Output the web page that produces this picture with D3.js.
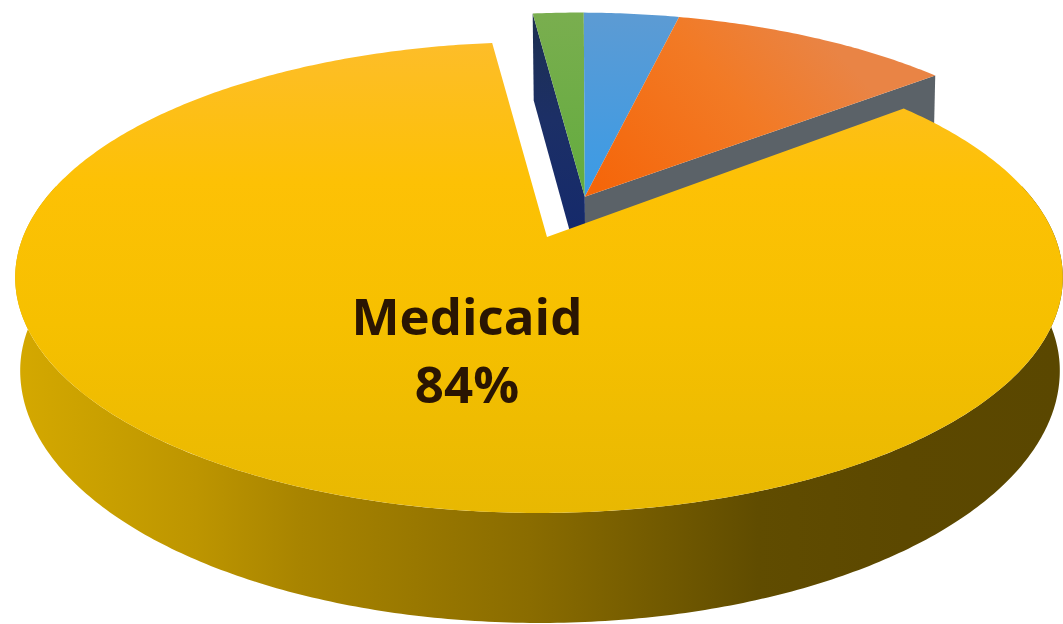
<!DOCTYPE html>
<html>
<head>
<meta charset="utf-8">
<script src="https://cdn.jsdelivr.net/npm/d3@7/dist/d3.min.js"></script>
<style>
  html, body { margin: 0; padding: 0; background: #fff; overflow: hidden; }
  svg { display: block; }
</style>
</head>
<body>
<svg id="chart" width="1063" height="624"></svg>
<script>
// Shares of the pie, largest slice first, then clockwise round the wedge
const categories = ["Medicaid", "Other A", "Other B", "Other C"];
const shares = [84, 1.9, 3.55, 10.55];
const labelLines = ["Medicaid", "84%"];

const W = 1063, H = 624;
const svg = d3.select("#chart").attr("viewBox", [0, 0, W, H]);
const defs = svg.append("defs");

// The disc lies in a tilted plane; a projective map turns its circle into the visible ellipse.
const originX = 539, originY = 237, radiusX = 516, radiusY = 228.5, tilt = 0.172;
function project(u, v) {
  const w = 1 - tilt * v;
  return [originX + radiusX * u / w, originY + radiusY * v / w];
}

// Depth of the disc grows towards the viewer, and the lower face is slightly narrower
const depth = d3.scaleLinear().domain([10, 277, 513]).range([87, 93, 110]);
const lowerX = d3.scaleLinear().domain([15, 1063]).range([20, 1060]);
const lower = ([x, y]) => [lowerX(x), y + depth(y)];

const startDeg = 51.5;
const pie = d3.pie().sort(null).value(d => d)
  .startAngle(startDeg * Math.PI / 180)
  .endAngle(startDeg * Math.PI / 180 + 2 * Math.PI);
const arcs = pie(shares);

// The slice tips sit slightly right of the disc centre
const tipShift = 0.0155;

// The small slices are pulled out along the bisector of the group they form
const smallFrom = arcs[1].startAngle, smallTo = arcs[3].endAngle;
const bisector = (smallFrom + smallTo) / 2;
const pull = 0.197;
const offsetU = tipShift + pull * Math.sin(bisector), offsetV = -pull * Math.cos(bisector);

function rimPoint(a, du, dv) { return project(Math.sin(a) + du, -Math.cos(a) + dv); }
function rim(a0, a1, du, dv) {
  const n = Math.max(2, Math.ceil((a1 - a0) * 90));
  return d3.range(n + 1).map(i => rimPoint(a0 + (a1 - a0) * i / n, du, dv));
}
const outline = d3.line();

function gradient(id, x1, y1, x2, y2, stops) {
  const g = defs.append("linearGradient").attr("id", id)
    .attr("gradientUnits", "userSpaceOnUse")
    .attr("x1", x1).attr("y1", y1).attr("x2", x2).attr("y2", y2);
  stops.forEach(([o, c]) => g.append("stop").attr("offset", o).attr("stop-color", c));
}
gradient("top0", 0, 40, 0, 513, [[0, "#fdbd2a"], [0.3, "#fdc105"], [0.6, "#f6c000"], [1, "#e8b802"]]);
gradient("top1", 0, 10, 0, 195, [[0, "#7aae4f"], [1, "#63ac3e"]]);
gradient("top2", 0, 10, 0, 195, [[0, "#5d9bd3"], [1, "#3a9be6"]]);
gradient("top3", 600, 190, 800, 10, [[0, "#f5660a"], [0.6, "#f27a25"], [1, "#e98445"]]);
gradient("side0", 20, 0, 1060, 0, [
  [0, "#d4a800"], [0.08, "#c9a000"], [0.17, "#bd9500"], [0.27, "#a88400"],
  [0.49, "#8a6c00"], [0.71, "#604c00"], [0.85, "#5c4800"], [1, "#5a4700"]
]);
gradient("wallBlue", 0, 10, 0, 230, [[0, "#1d3050"], [0.5, "#1c2f66"], [1, "#152a6b"]]);

const walls = svg.append("g");
const tops = svg.append("g");

// Cut faces of the pulled-out group: dark blue on its left edge, grey on its right
const apexSmall = project(offsetU, offsetV);
[[smallFrom, "url(#wallBlue)"], [smallTo, "#5b6268"]].forEach(([a, fill]) => {
  const p = rimPoint(a, offsetU, offsetV);
  walls.append("path")
    .attr("d", outline([apexSmall, p, lower(p), lower(apexSmall)]) + "Z")
    .attr("fill", fill);
});

// Upper faces of the small slices
arcs.slice(1).forEach((d, i) => {
  const pts = [apexSmall, ...rim(d.startAngle, d.endAngle, offsetU, offsetV)];
  tops.append("path")
    .attr("d", outline(pts) + "Z")
    .attr("fill", `url(#top${i + 1})`);
});

// Front wall of the large slice, swept from its upper rim down to the lower rim
const big = arcs[0];
const frontFrom = Math.PI * 0.4 + 0.08, frontTo = Math.PI * 1.6 - 0.08;
const upperRim = rim(frontFrom, frontTo, 0, 0);
svg.append("path")
  .attr("d", outline([...upperRim, ...upperRim.map(lower).reverse()]) + "Z")
  .attr("fill", "url(#side0)");

// Upper face of the large slice
svg.append("path")
  .attr("d", outline([project(tipShift, 0), ...rim(big.startAngle, big.endAngle, 0, 0)]) + "Z")
  .attr("fill", "url(#top0)");

// Data label
svg.append("g")
  .attr("font-family", "'Open Sans', sans-serif")
  .attr("font-weight", 700)
  .attr("font-size", 51)
  .attr("fill", "#2a1502")
  .attr("text-anchor", "middle")
  .selectAll("text")
  .data(labelLines)
  .join("text")
  .attr("x", 467)
  .attr("y", (d, i) => 335 + i * 68)
  .text(d => d);
</script>
</body>
</html>
